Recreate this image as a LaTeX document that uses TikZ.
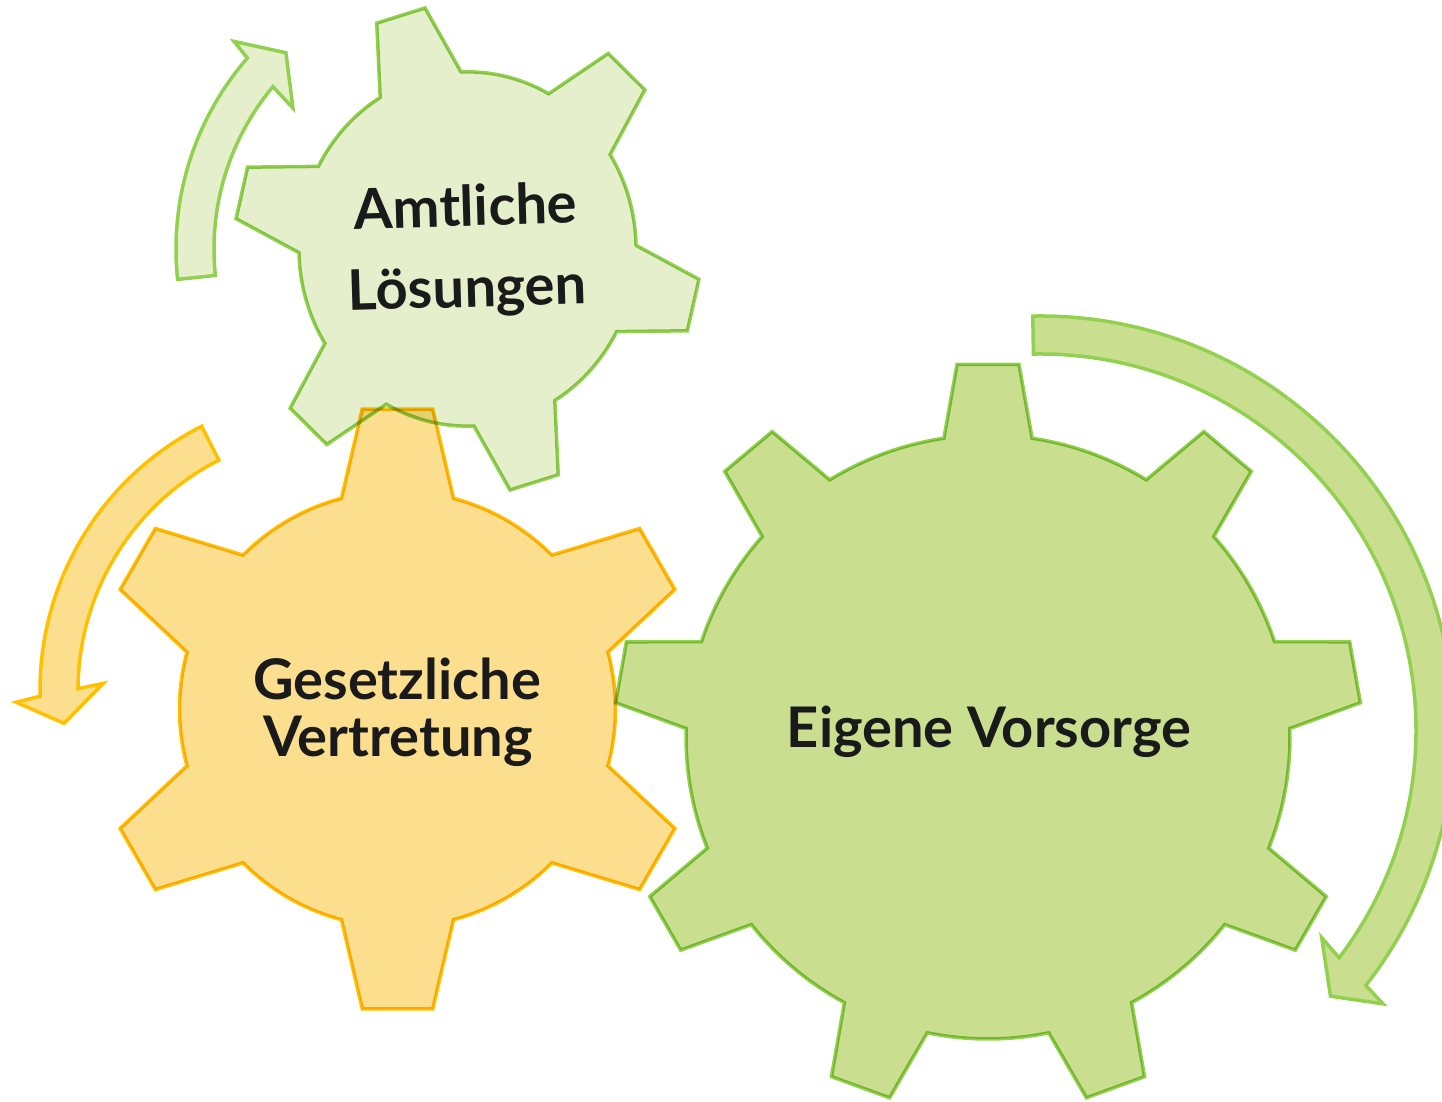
\documentclass[tikz,border=0pt]{standalone}
\usepackage{fontspec}
\setmainfont{Lato}

\definecolor{leafline}{HTML}{92D050}
\definecolor{leaffill}{HTML}{C9DF8F}
\definecolor{palefill}{HTML}{E6EFCC}
\definecolor{sunline}{HTML}{FFC000}
\definecolor{sunfill}{HTML}{FCDF8E}
\definecolor{ink}{HTML}{1A1A1A}

% cog outline: #1 style, #2 centre, #3 number of teeth, #4 tip radius,
% #5 root radius, #6 half angle of the tip, #7 half angle of the tooth root,
% #8 direction of the first tooth
\newcommand\cogpath[8]{%
  \path[shift={#2}, #1] ({#8-#7}:#5)
    \foreach \k [evaluate=\k as \a using #8+(\k-1)*360/#3] in {1,...,#3} {
      -- ({\a-#6}:#4) -- ({\a+#6}:#4) -- ({\a+#7}:#5)
      arc[start angle={\a+#7}, end angle={\a+360/#3-#7}, radius=#5]
    } -- cycle;
}

\tikzset{
  cog/.style={line width=3.5pt, line join=miter},
  bigcog/.style={cog, draw=leafline, fill=leaffill},
  suncog/.style={cog, draw=sunline, fill=sunfill},
  palecog/.style={cog, draw=leafline, fill=palefill},
  bandarrow/.style={line width=3.5pt, line join=miter},
  palearrow/.style={bandarrow, draw=leafline, fill=palefill},
  sunarrow/.style={bandarrow, draw=sunline, fill=sunfill},
  leafarrow/.style={bandarrow, draw=leafline, fill=leaffill},
  label/.style={font=\fontsize{56}{62}\selectfont\bfseries, text=ink,
    inner sep=0pt, anchor=base},
}

\begin{document}
\begin{tikzpicture}[x=1pt, y=1pt]
\useasboundingbox (0,0) rectangle (1442,1102);
\clip (0,0) rectangle (1442,1102);

% the three cogs, overlapping areas multiplied
\begin{scope}[blend group=multiply]
  \cogpath{bigcog}{(988,365)}{9}{374}{302}{4.75}{8.4}{90}
  \cogpath{suncog}{(397.5,393)}{6}{302}{218}{6.7}{14.9}{90}
  \cogpath{palecog, xscale=0.98, yscale=1.03}{(467.5,853)}{6}{238}{172}{6.2}{14.5}{106.7}
\end{scope}

% turning arrows round the cogs
\begin{scope}[shift={(467,853)}]
  \path[palearrow] (186:291) arc[start angle=186, end angle=139, radius=291]
    -- (138.3:312) -- (132.7:267) -- (141:224) -- (140.1:253)
    arc[start angle=140.1, end angle=186, radius=253] -- cycle;
\end{scope}
\begin{scope}[shift={(336,412)}]
  \path[sunarrow] (117:296) arc[start angle=117, end angle=181.2, radius=296]
    -- (182.2:320) -- (187:274) -- (178.4:233) -- (179.7:258)
    arc[start angle=179.7, end angle=117, radius=258] -- cycle;
\end{scope}
\begin{scope}[shift={(1040,372)}]
  \path[leafarrow] (91:414) arc[start angle=91, end angle=-38.1, radius=414]
    -- (-38.6:439) -- (-42.5:394) -- (-36.4:350) -- (-37.3:376)
    arc[start angle=-37.3, end angle=91, radius=376] -- cycle;
\end{scope}

% labels
\node[label] (own) at (989,354) {Eigene Vorsorge};
\node[label] (legal1) at (397,402) {Gesetzliche};
\node[label] (legal2) at (398,345) {Vertretung};
\node[label, rotate=1.7] (office1) at (466,876) {Amtliche};
\node[label, rotate=1.7] (office2) at (468,795) {Lösungen};
\end{tikzpicture}
\end{document}
